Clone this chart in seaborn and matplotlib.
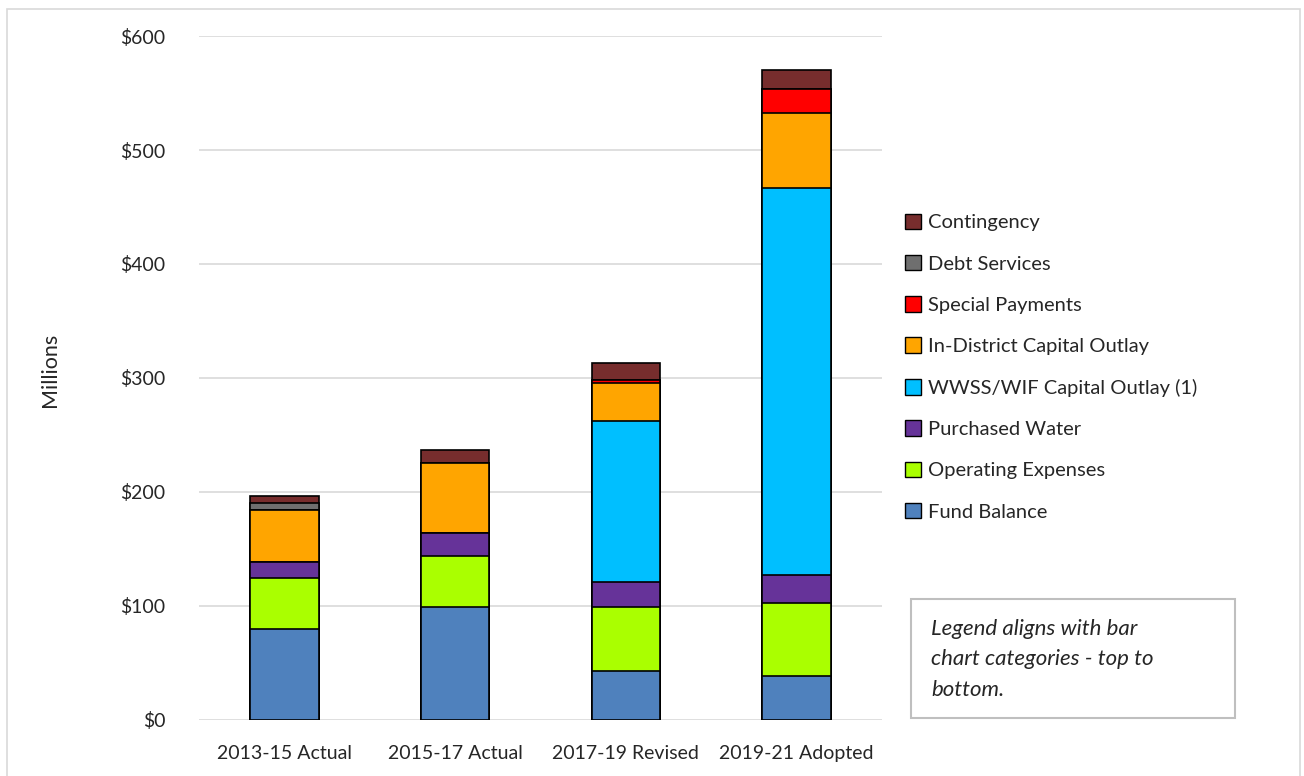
import matplotlib
matplotlib.use("Agg")
import matplotlib.pyplot as plt
import matplotlib.patches as mpatches
import seaborn as sns

periods = ["2013-15 Actual", "2015-17 Actual", "2017-19 Revised", "2019-21 Adopted"]

# $ millions, bottom to top of each bar
fund_balance = [80.2, 98.7, 43.1, 38.9]
operating_expenses = [44.0, 45.4, 55.9, 63.9]
purchased_water = [14.6, 20.2, 21.7, 24.0]
wwss_capital = [0.0, 0.0, 142.0, 339.8]
in_district_capital = [45.2, 60.9, 33.2, 66.2]
special_payments = [0.0, 0.0, 2.3, 21.1]
debt_services = [6.7, 0.0, 0.0, 0.0]
contingency = [5.5, 11.5, 15.2, 16.4]

series = [
    ("Fund Balance", fund_balance, "#4F81BD"),
    ("Operating Expenses", operating_expenses, "#AAFF00"),
    ("Purchased Water", purchased_water, "#663399"),
    ("WWSS/WIF Capital Outlay (1)", wwss_capital, "#00BFFF"),
    ("In-District Capital Outlay", in_district_capital, "#FFA500"),
    ("Special Payments", special_payments, "#FF0000"),
    ("Debt Services", debt_services, "#6F6F6F"),
    ("Contingency", contingency, "#772D2D"),
]

sns.set_theme(style="white")
plt.rcParams["font.family"] = ["Lato", "DejaVu Sans"]

fig = plt.figure(figsize=(13.04, 7.76), dpi=100)
ax = fig.add_axes([0.1526, 0.0722, 0.5238, 0.8814])

# cumulative totals, drawn from the tallest down so each layer covers the next
cums = []
running = [0.0] * len(periods)
for name, vals, color in series:
    running = [r + v for r, v in zip(running, vals)]
    cums.append(list(running))

for (name, vals, color), cum in reversed(list(zip(series, cums))):
    sns.barplot(x=periods, y=cum, color=color, width=0.4, edgecolor="black",
                linewidth=1.2, saturation=1, ax=ax, zorder=3)

ax.set_ylim(0, 600)
ax.set_yticks(range(0, 601, 100))
ax.set_yticklabels([f"${v}" for v in range(0, 601, 100)], fontsize=14)
ax.tick_params(axis="x", labelsize=14, pad=12)
ax.tick_params(axis="y", pad=18)
ax.grid(axis="y", color="#D9D9D9", linewidth=1.2, zorder=0)
ax.set_axisbelow(True)
for s in ax.spines.values():
    s.set_visible(False)
ax.set_xlabel("")
ax.set_ylabel("")
fig.text(50 / 1304, 1 - 370 / 776, "Millions", rotation=90, fontsize=15.5,
         ha="center", va="center")

handles = [mpatches.Patch(facecolor=c, edgecolor="black", linewidth=1, label=n)
           for n, v, c in reversed(series)]
fig.legend(handles=handles, loc="upper left", bbox_to_anchor=(0.6875, 0.735),
           frameon=False, fontsize=14.5, handlelength=0.8, handleheight=0.8,
           handletextpad=0.35, labelspacing=1.17, borderaxespad=0)

fig.patches.append(mpatches.Rectangle((911 / 1304, 1 - 718 / 776), 324 / 1304, 119 / 776,
                                      transform=fig.transFigure, fill=False,
                                      edgecolor="#BFBFBF", linewidth=1.5))
fig.text(931 / 1304, 1 - 619 / 776,
         "Legend aligns with bar\nchart categories - top to\nbottom.",
         fontsize=16, style="italic", va="top", ha="left", linespacing=1.65)

fig.patches.append(mpatches.Rectangle((7 / 1304, -0.01), 1293 / 1304, 1 - 9 / 776 + 0.01,
                                      transform=fig.transFigure, fill=False,
                                      edgecolor="#D9D9D9", linewidth=1.2))

fig.savefig("out.png", dpi=100)
